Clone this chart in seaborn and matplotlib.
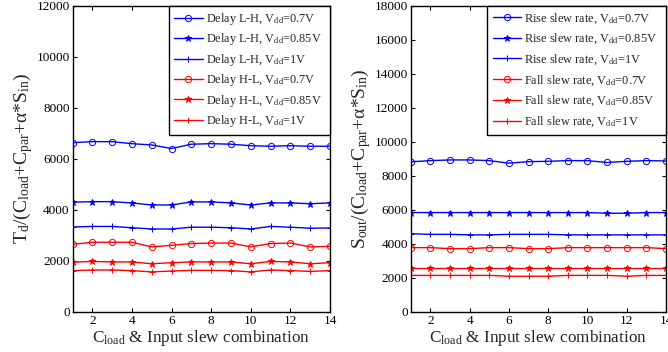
import numpy as np
import pandas as pd
import matplotlib
matplotlib.use("Agg")
import matplotlib.pyplot as plt
import seaborn as sns

x = list(range(1, 15))

# Left panel: normalised delay
delay_lh_07 = [6630, 6670, 6670, 6590, 6540, 6400, 6570, 6590, 6570, 6510, 6490, 6510, 6490, 6490]
delay_lh_085 = [4300, 4320, 4320, 4270, 4190, 4190, 4310, 4310, 4270, 4190, 4270, 4270, 4240, 4270]
delay_lh_1 = [3330, 3350, 3350, 3300, 3250, 3250, 3320, 3320, 3300, 3250, 3350, 3320, 3280, 3290]
delay_hl_07 = [2650, 2730, 2730, 2730, 2550, 2610, 2680, 2700, 2700, 2550, 2680, 2700, 2550, 2570]
delay_hl_085 = [1950, 1980, 1960, 1960, 1890, 1930, 1960, 1960, 1960, 1890, 1980, 1960, 1890, 1930]
delay_hl_1 = [1620, 1645, 1645, 1620, 1570, 1605, 1630, 1630, 1620, 1570, 1645, 1620, 1590, 1620]

# Right panel: normalised output slew
rise_07 = [8820, 8890, 8930, 8930, 8890, 8740, 8830, 8850, 8890, 8890, 8780, 8850, 8890, 8870]
rise_085 = [5840, 5840, 5840, 5840, 5840, 5840, 5840, 5840, 5840, 5840, 5800, 5800, 5840, 5840]
rise_1 = [4600, 4560, 4560, 4530, 4530, 4560, 4560, 4560, 4530, 4530, 4530, 4530, 4530, 4530]
fall_07 = [3780, 3780, 3720, 3720, 3780, 3780, 3720, 3720, 3780, 3780, 3780, 3780, 3780, 3720]
fall_085 = [2600, 2600, 2600, 2600, 2600, 2600, 2600, 2600, 2600, 2600, 2600, 2600, 2600, 2600]
fall_1 = [2150, 2150, 2150, 2150, 2150, 2100, 2100, 2100, 2150, 2150, 2150, 2100, 2150, 2150]

left_labels = ["Delay L-H, V$_{\\rm dd}$=0.7V", "Delay L-H, V$_{\\rm dd}$=0.85V", "Delay L-H, V$_{\\rm dd}$=1V",
               "Delay H-L, V$_{\\rm dd}$=0.7V", "Delay H-L, V$_{\\rm dd}$=0.85V", "Delay H-L, V$_{\\rm dd}$=1V"]
right_labels = ["Rise slew rate, V$_{\\rm dd}$=0.7V", "Rise slew rate, V$_{\\rm dd}$=0.85V", "Rise slew rate, V$_{\\rm dd}$=1V",
                "Fall slew rate, V$_{\\rm dd}$=0.7V", "Fall slew rate, V$_{\\rm dd}$=0.85V", "Fall slew rate, V$_{\\rm dd}$=1V"]
left_series = [delay_lh_07, delay_lh_085, delay_lh_1, delay_hl_07, delay_hl_085, delay_hl_1]
right_series = [rise_07, rise_085, rise_1, fall_07, fall_085, fall_1]

xticks = [2, 4, 6, 8, 10, 12, 14]
left_yticks = [0, 2000, 4000, 6000, 8000, 10000, 12000]
right_yticks = [0, 2000, 4000, 6000, 8000, 10000, 12000, 14000, 16000, 18000]

colors = ["#0000ff", "#0000ff", "#0000ff", "#ff0000", "#ff0000", "#ff0000"]
markers = ["o", "*", "+", "o", "*", "+"]

sns.set_style("ticks")
plt.rcParams["font.family"] = ["Liberation Serif", "DejaVu Serif"]
plt.rcParams["mathtext.fontset"] = "custom"
plt.rcParams["mathtext.rm"] = "Liberation Serif"
plt.rcParams["mathtext.it"] = "Liberation Serif:italic"
plt.rcParams["mathtext.bf"] = "Liberation Serif:bold"

fig = plt.figure(figsize=(6.68, 3.52), dpi=100)
axL = fig.add_axes([72.5 / 668, 40 / 352, 257.5 / 668, 306.5 / 352])
axR = fig.add_axes([410.7 / 668, 40 / 352, 255.3 / 668, 306.5 / 352])


def draw(ax, series, labels, yticks, ylabel, legfs, tail, lspace):
    for s, lab, c, m in zip(series, labels, colors, markers):
        df = pd.DataFrame({"x": x, "y": s})
        mfc = "none" if m == "o" else c
        sns.lineplot(data=df, x="x", y="y", ax=ax, color=c, marker=m,
                     markersize=4.5 if m == "o" else 5,
                     markerfacecolor=mfc, markeredgecolor=c, markeredgewidth=0.7,
                     linewidth=1.0, label=lab + tail)
    ax.set_xlim(1, 14)
    ax.set_ylim(yticks[0], yticks[-1])
    ax.set_xticks(xticks)
    ax.set_yticks(yticks)
    ax.tick_params(direction="in", top=True, right=True, labelsize=9.5, length=3, width=0.8,
                   colors="black", pad=2)
    for sp in ax.spines.values():
        sp.set_visible(True)
        sp.set_linewidth(1.0)
        sp.set_color("black")
    ax.set_xlabel("C$_{\\rm load}$ & Input slew combination", fontsize=12.3, labelpad=1)
    ax.set_ylabel(ylabel, fontsize=14, labelpad=1)
    leg = ax.legend(loc="upper right", fontsize=legfs, frameon=True, fancybox=False,
                    borderaxespad=0, handlelength=2.3, handletextpad=0.25,
                    labelspacing=lspace, borderpad=0.45)
    leg.get_frame().set_edgecolor("black")
    leg.get_frame().set_linewidth(1.0)
    leg.get_frame().set_alpha(1)


draw(axL, left_series, left_labels, left_yticks,
     "T$_{\\rm d}$/(C$_{\\rm load}$+C$_{\\rm par}$+α*S$_{\\rm in}$)", 8.8, "  ", 0.36)
draw(axR, right_series, right_labels, right_yticks,
     "S$_{\\rm out}$/(C$_{\\rm load}$+C$_{\\rm par}$+α*S$_{\\rm in}$)", 8.9, "  ", 0.5)

fig.savefig("out.png", dpi=100)
